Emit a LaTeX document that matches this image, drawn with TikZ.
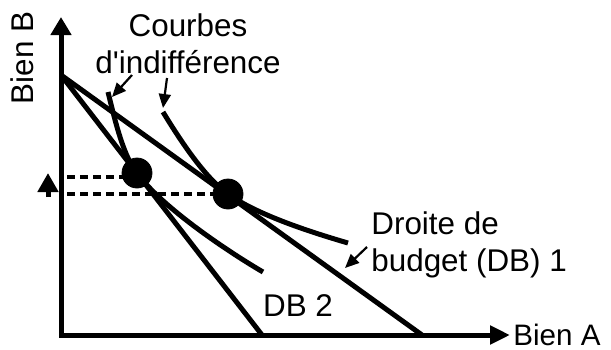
\documentclass[tikz,border=0pt]{standalone}
\usepackage{fontspec}
\newfontfamily\etiq{Liberation Sans}
\usetikzlibrary{arrows.meta}
\tikzset{
	axe/.style={black, line width=2.5pt, line join=miter},
	droite/.style={black, line width=2.5pt},
	courbe/.style={black, line width=2.5pt},
	repere/.style={black, line width=1.75pt, dash pattern=on 4pt off 2.5pt},
	fleche/.style={black, line width=1.1pt, -{Triangle[length=7pt,width=6pt]}},
	etiquette/.style={font=\etiq\fontsize{15.7}{18.5}\selectfont, inner sep=0pt}
}
\begin{document}
\begin{tikzpicture}[x=0.5pt,y=-0.5pt]
		\useasboundingbox (0,0) rectangle (611,349);
		\coordinate (O) at (61,335);
		\coordinate (yfin) at (61,17);
		\coordinate (xfin) at (510,335);
		\coordinate (B0) at (61,75);
		\coordinate (A1) at (422,335);
		\coordinate (A2) at (262,335);
		\coordinate (E1) at (137,173);
		\coordinate (E2) at (228,194);
		\coordinate (c1a) at (108,92);
		\coordinate (c1b) at (263,272);
		\coordinate (c2a) at (163,112);
		\coordinate (c2b) at (348,243);
		\coordinate (g1) at (67,177);
		\coordinate (g2) at (67,194);
		\coordinate (h0) at (48,197);
		\coordinate (h1) at (48,173);

		\draw[axe, {Triangle[length=9pt,width=10pt]}-{Triangle[length=10pt,width=9pt]}] (yfin) -- (O) -- (xfin);
		\draw[droite] (B0) -- (A1);
		\draw[droite] (B0) -- (A2);
		\draw[courbe] (c1a) .. controls (116,125) and (124,157) .. (E1) .. controls (160,205) and (222,248) .. (c1b);
		\draw[courbe] (c2a) .. controls (180,140) and (205,178) .. (E2) .. controls (255,213) and (300,229) .. (c2b);
		\draw[repere] (g1) -- (g1 -| E1);
		\draw[repere] (g2) -- (g2 -| E2);
		\draw[black, line width=2.5pt, -{Triangle[length=9.5pt,width=10pt]}] (h0) -- (h1);

		\filldraw[black] (E1) circle (7.5pt);
		\filldraw[black] (E2) circle (7.5pt);

		\node[etiquette, align=center] (courbes) at (188,44) {Courbes\\d'indifférence};
		\node[etiquette, align=left, anchor=west] (budget) at (371,245) {Droite de\\budget (DB) 1};
		\node[etiquette] (db2) at (298,306) {DB 2};
		\node[etiquette, anchor=west, font=\etiq\fontsize{14.8}{18}\selectfont] (bienA) at (513,335) {Bien A};
		\node[etiquette, rotate=90] (bienB) at (22,58) {Bien B};

		\coordinate (f1a) at (132,75);
		\coordinate (f1b) at (112,97);
		\coordinate (f2a) at (167,78);
		\coordinate (f2b) at (163,108);
		\coordinate (f3a) at (367,247);
		\coordinate (f3b) at (345,268);
		\draw[fleche] (f1a) -- (f1b);
		\draw[fleche] (f2a) -- (f2b);
		\draw[fleche] (f3a) -- (f3b);
	\end{tikzpicture}
\end{document}
